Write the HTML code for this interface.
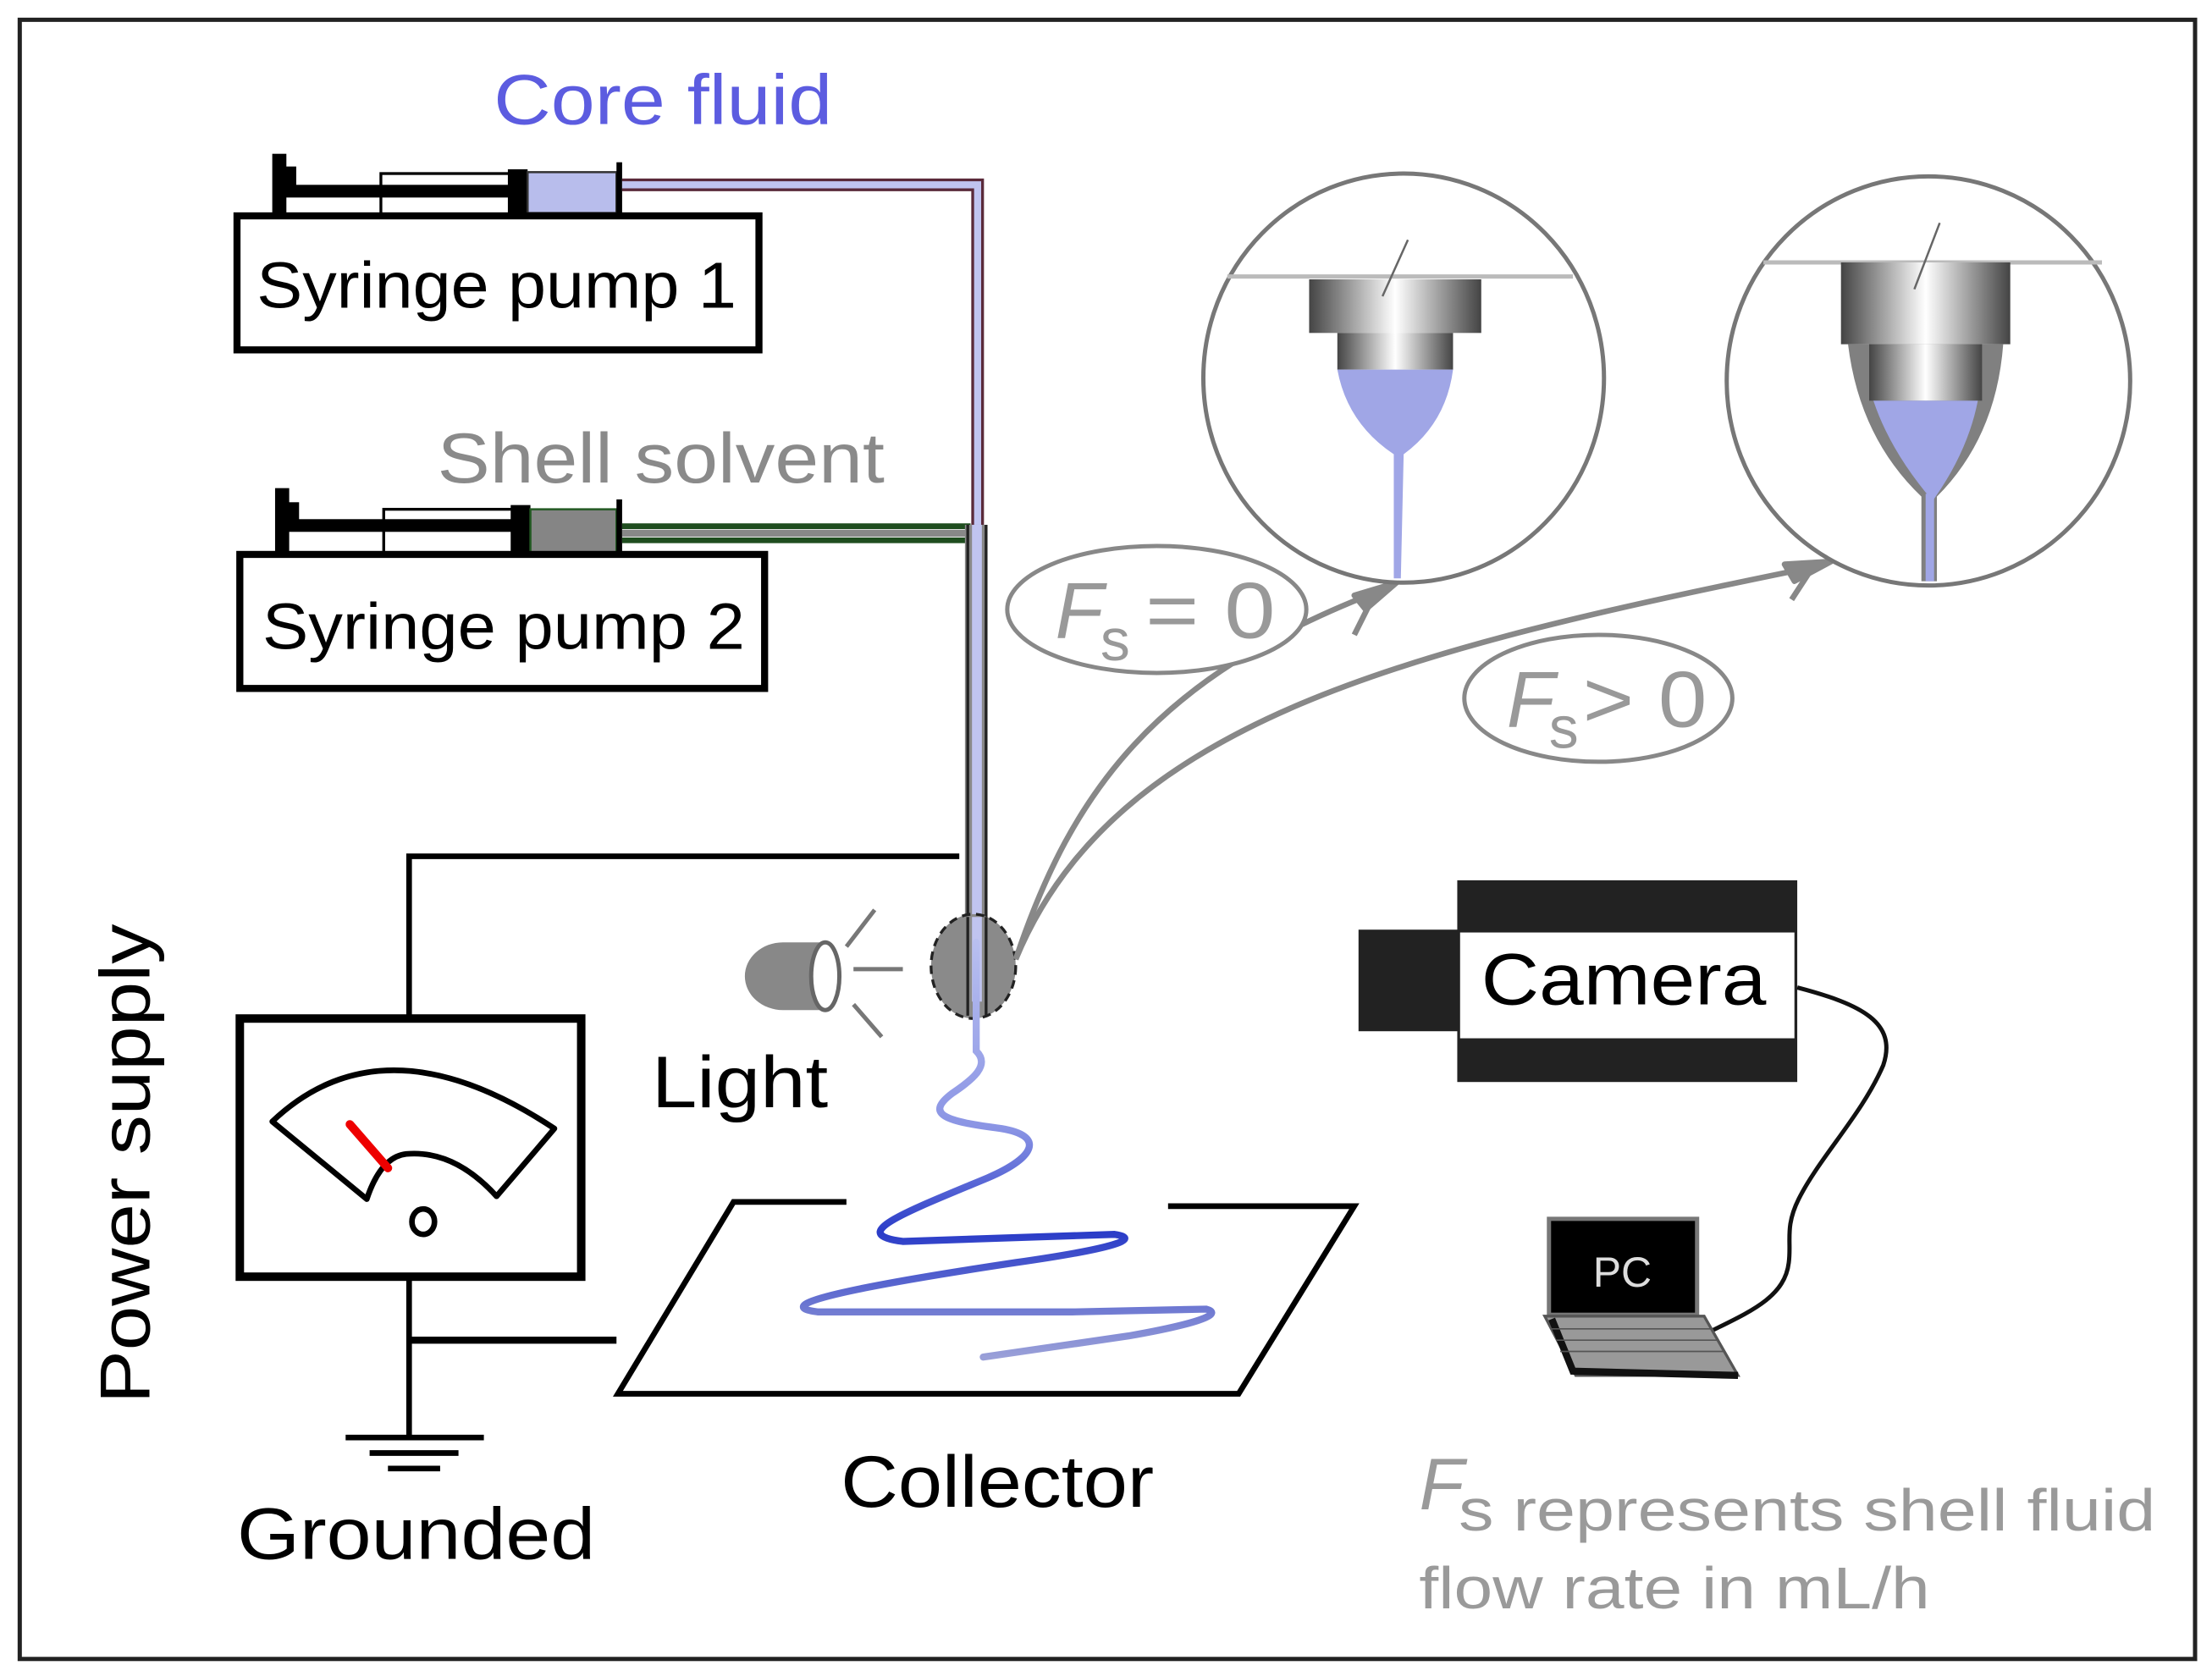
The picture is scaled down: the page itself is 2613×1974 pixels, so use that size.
<!DOCTYPE html>
<html><head><meta charset="utf-8"><style>
html,body{margin:0;padding:0;background:#fff;}
svg{display:block;}
text{font-family:"Liberation Sans",sans-serif;}
</style></head><body>
<svg width="2613" height="1974" viewBox="0 0 1568 1184.5" xmlns="http://www.w3.org/2000/svg">
<defs>
<linearGradient id="met" x1="0" x2="1" y1="0" y2="0">
<stop offset="0" stop-color="#444"/><stop offset="0.5" stop-color="#fff"/><stop offset="1" stop-color="#444"/>
</linearGradient>
<linearGradient id="jet" x1="0" x2="0" y1="0" y2="1">
<stop offset="0" stop-color="#b8bff0"/><stop offset="0.45" stop-color="#8a94e4"/><stop offset="0.7" stop-color="#2a3cc8"/><stop offset="1" stop-color="#9aa0d8"/>
</linearGradient>
</defs>
<rect x="0" y="0" width="1568" height="1185" fill="#fff"/>
<rect x="14" y="14" width="1542" height="1162" fill="none" stroke="#222" stroke-width="3"/>

<text x="350" y="88" font-size="50" fill="#5c5ce0" textLength="240" lengthAdjust="spacingAndGlyphs">Core fluid</text>
<rect x="193" y="109" width="10" height="44" fill="#000"/>
<rect x="200" y="118" width="10" height="20" fill="#000"/>
<rect x="200" y="131" width="162" height="9" fill="#000"/>
<rect x="270" y="123" width="92" height="29" fill="none" stroke="#000" stroke-width="2"/>
<rect x="360" y="120" width="14" height="33" fill="#000"/>
<rect x="374" y="122" width="63" height="29" fill="#b8bdec" stroke="#333" stroke-width="1.5"/>
<rect x="437" y="115" width="4" height="38" fill="#000"/>
<path d="M441 131 H693 V685" fill="none" stroke="#5a2a3a" stroke-width="9"/>
<path d="M441 131 H693 V685" fill="none" stroke="#c0c4f0" stroke-width="5"/>
<rect x="168" y="153" width="370" height="95" fill="#fff" stroke="#000" stroke-width="5"/>
<text x="182" y="218" font-size="46" fill="#000" textLength="340" lengthAdjust="spacingAndGlyphs">Syringe pump 1</text>

<text x="310" y="342" font-size="50" fill="#8a8a8a" textLength="317" lengthAdjust="spacingAndGlyphs">Shell solvent</text>
<rect x="195" y="346" width="10" height="48" fill="#000"/>
<rect x="202" y="356" width="10" height="20" fill="#000"/>
<rect x="202" y="368" width="162" height="9" fill="#000"/>
<rect x="272" y="361" width="92" height="31" fill="none" stroke="#000" stroke-width="2"/>
<rect x="362" y="358" width="14" height="35" fill="#000"/>
<rect x="376" y="361" width="61" height="31" fill="#858585" stroke="#235a23" stroke-width="1.5"/>
<rect x="437" y="354" width="4" height="40" fill="#000"/>
<path d="M441 373 H688" stroke="#1f4d1f" stroke-width="4"/>
<path d="M441 383 H686" stroke="#1f4d1f" stroke-width="4"/>
<path d="M441 378 H688" stroke="#888" stroke-width="5"/>
<rect x="684" y="372" width="16" height="310" fill="#888"/>
<line x1="686" y1="372" x2="686" y2="682" stroke="#222" stroke-width="2"/>
<line x1="699" y1="372" x2="699" y2="682" stroke="#222" stroke-width="2"/>
<rect x="689" y="372" width="7" height="320" fill="#c0c4f0"/>
<rect x="170" y="393" width="372" height="95" fill="#fff" stroke="#000" stroke-width="5"/>
<text x="186" y="460" font-size="46" fill="#000" textLength="342" lengthAdjust="spacingAndGlyphs">Syringe pump 2</text>

<ellipse cx="690" cy="685" rx="30" ry="37" fill="#8a8a8a" stroke="#222" stroke-width="2" stroke-dasharray="6,4"/>
<line x1="686" y1="650" x2="686" y2="720" stroke="#222" stroke-width="2"/>
<line x1="699" y1="650" x2="699" y2="720" stroke="#222" stroke-width="2"/>
<rect x="689" y="650" width="7" height="60" fill="#c0c4f0"/>

<path d="M692 718 V795 C702 805 690 815 675 825 C655 840 670 845 710 850 C740 855 735 870 700 885 C640 910 600 925 640 930 L790 925 C810 928 790 935 720 945 C620 960 540 975 580 980 L760 980 L855 978 C870 982 840 990 800 997 L697 1012" fill="none" stroke="url(#jet)" stroke-width="5" stroke-linecap="round" transform="translate(0,-50)"/>

<path d="M555 668 H585 V716 H555 A27 24 0 0 1 555 668 Z" fill="#888"/>
<ellipse cx="585" cy="692" rx="10" ry="24" fill="#fff" stroke="#666" stroke-width="3"/>
<line x1="600" y1="671" x2="620" y2="645" stroke="#777" stroke-width="3"/>
<line x1="605" y1="687" x2="640" y2="687" stroke="#777" stroke-width="3"/>
<line x1="605" y1="712" x2="625" y2="735" stroke="#777" stroke-width="3"/>
<text x="462" y="785" font-size="52" fill="#000" textLength="125" lengthAdjust="spacingAndGlyphs">Light</text>

<path d="M680 607 H290 V720" fill="none" stroke="#000" stroke-width="4"/>
<rect x="170" y="722" width="242" height="183" fill="#fff" stroke="#000" stroke-width="6"/>
<path d="M193 795 Q272 720 393 800 L352 848 Q322 815 288 818 Q270 820 260 850 Z" fill="none" stroke="#000" stroke-width="4" stroke-linejoin="round"/>
<line x1="248" y1="797" x2="275" y2="828" stroke="#e00" stroke-width="6" stroke-linecap="round"/>
<ellipse cx="300" cy="866" rx="8" ry="9" fill="none" stroke="#000" stroke-width="4"/>
<path d="M290 905 V1018" stroke="#000" stroke-width="4"/>
<path d="M290 950 H437" stroke="#000" stroke-width="5"/>
<line x1="245" y1="1019" x2="343" y2="1019" stroke="#000" stroke-width="4"/>
<line x1="262" y1="1030" x2="325" y2="1030" stroke="#000" stroke-width="4"/>
<line x1="275" y1="1041" x2="312" y2="1041" stroke="#000" stroke-width="4"/>
<text x="0" y="0" font-size="50" fill="#000" transform="translate(106,995) rotate(-90)" textLength="340" lengthAdjust="spacingAndGlyphs">Power supply</text>
<text x="168" y="1105" font-size="52" fill="#000" textLength="254" lengthAdjust="spacingAndGlyphs">Grounded</text>

<path d="M600 852 H520 L438 988 H878 L960 855 H828" fill="none" stroke="#000" stroke-width="4"/>
<text x="596" y="1068" font-size="52" fill="#000" textLength="222" lengthAdjust="spacingAndGlyphs">Collector</text>

<rect x="1033" y="624" width="241" height="143" fill="#222"/>
<rect x="1035" y="661" width="237" height="75" fill="#fff"/>
<rect x="963" y="659" width="71" height="72" fill="#222"/>
<text x="1050" y="712" font-size="52" fill="#000" textLength="202" lengthAdjust="spacingAndGlyphs">Camera</text>
<path d="M1274 700 C1320 712 1345 725 1335 755 C1320 790 1290 820 1275 850 C1265 870 1270 880 1268 895 C1265 920 1240 930 1210 945" fill="none" stroke="#111" stroke-width="3"/>
<rect x="1098" y="864" width="105" height="68" fill="#000" stroke="#777" stroke-width="3"/>
<text x="1150" y="912" font-size="30" fill="#ddd" text-anchor="middle">PC</text>
<path d="M1095 933 L1208 933 L1232 975 L1117 975 Z" fill="#999" stroke="#555" stroke-width="2"/>
<path d="M1100 935 L1115 972 L1232 975" fill="none" stroke="#111" stroke-width="5"/>
<g stroke="#555" stroke-width="1">
<line x1="1100" y1="942" x2="1213" y2="942"/><line x1="1103" y1="950" x2="1218" y2="950"/><line x1="1106" y1="958" x2="1222" y2="958"/>
</g>

<text x="1006" y="1070" font-size="52" fill="#9a9a9a" font-style="italic">F</text>
<text x="1034" y="1085" font-size="42" fill="#9a9a9a" textLength="494" lengthAdjust="spacingAndGlyphs">s represents shell fluid</text>
<text x="1006" y="1140" font-size="42" fill="#9a9a9a" textLength="362" lengthAdjust="spacingAndGlyphs">flow rate in mL/h</text>

<path d="M720 680 C760 560 820 480 975 420" fill="none" stroke="#888" stroke-width="4"/>
<path d="M720 680 C790 510 1000 460 1285 402" fill="none" stroke="#888" stroke-width="4"/>
<path d="M990 413 L960 422 L968 432 Z" fill="#888" stroke="#888" stroke-width="4" stroke-linejoin="round"/>
<path d="M1298 398 L1265 400 L1272 412 Z" fill="#888" stroke="#888" stroke-width="4" stroke-linejoin="round"/>
<line x1="975" y1="420" x2="960" y2="450" stroke="#888" stroke-width="4"/>
<line x1="1285" y1="402" x2="1270" y2="425" stroke="#888" stroke-width="4"/>

<ellipse cx="820" cy="432" rx="106" ry="45" fill="#fff" stroke="#888" stroke-width="3"/>
<text x="748" y="452" font-size="56" fill="#999" font-style="italic">F</text>
<text x="780" y="468" font-size="42" fill="#999">s</text>
<text x="812" y="452" font-size="56" fill="#999" textLength="92" lengthAdjust="spacingAndGlyphs">= 0</text>
<ellipse cx="1133" cy="495" rx="95" ry="45" fill="#fff" stroke="#888" stroke-width="3"/>
<text x="1068" y="515" font-size="56" fill="#999" font-style="italic">F</text>
<text x="1098" y="530" font-size="42" fill="#999">s</text>
<text x="1122" y="515" font-size="56" fill="#999" textLength="88" lengthAdjust="spacingAndGlyphs">&gt; 0</text>

<ellipse cx="995" cy="268" rx="142" ry="145" fill="#fff" stroke="#777" stroke-width="3"/>
<line x1="870" y1="196" x2="1115" y2="196" stroke="#bbb" stroke-width="3"/>
<rect x="928" y="198" width="122" height="38" fill="url(#met)"/>
<rect x="948" y="236" width="82" height="26" fill="url(#met)"/>
<path d="M948 262 H1030 Q1025 300 995 322 L993 410 H988 L988 322 Q955 300 948 262 Z" fill="#a0a6e6"/>
<line x1="998" y1="170" x2="980" y2="210" stroke="#666" stroke-width="1.5"/>

<ellipse cx="1367" cy="270" rx="143" ry="145" fill="#fff" stroke="#777" stroke-width="3"/>
<line x1="1250" y1="186" x2="1490" y2="186" stroke="#bbb" stroke-width="3"/>
<rect x="1305" y="186" width="120" height="58" fill="url(#met)"/>
<path d="M1310 244 H1420 Q1415 310 1373 352 L1373 412 H1362 L1362 352 Q1318 310 1310 244 Z" fill="#808080"/>
<rect x="1325" y="244" width="80" height="40" fill="url(#met)"/>
<path d="M1328 284 H1402 Q1395 320 1370 355 Q1340 320 1328 284 Z" fill="#a0a6e6"/>
<rect x="1365" y="350" width="6" height="62" fill="#a0a6e6"/>
<line x1="1375" y1="158" x2="1357" y2="205" stroke="#666" stroke-width="1.5"/>
</svg>
</body></html>
